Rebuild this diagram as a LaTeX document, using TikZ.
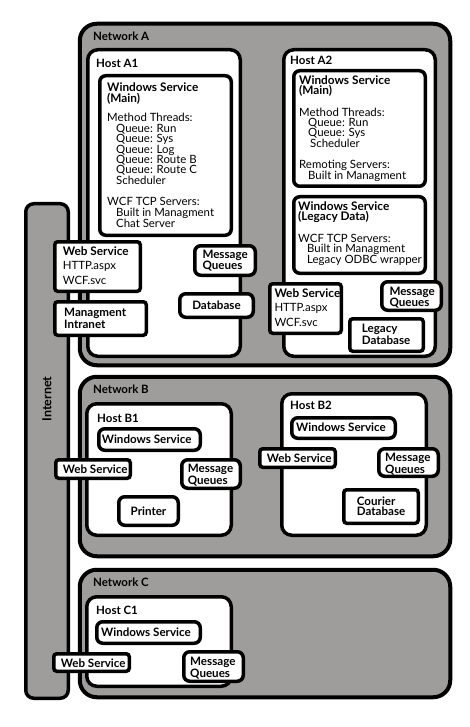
\documentclass[tikz,border=0pt]{standalone}
\usepackage{fontspec}
\setmainfont{Lato}
\definecolor{netgray}{RGB}{158,157,156}
\tikzset{
  netbox/.style={draw=black, fill=netgray, line width=4pt, rounded corners=17pt},
  inetbox/.style={draw=black, fill=netgray, line width=3.5pt, rounded corners=8pt},
  hostbox/.style={draw=black, fill=white, line width=3.5pt, rounded corners=10pt},
  inbox/.style={draw=black, fill=white, line width=3.5pt, rounded corners=6pt},
  sqbox/.style={draw=black, fill=white, line width=3.5pt, rounded corners=3pt},
  txt/.style={inner sep=0pt, anchor=west, align=left, font=\fontsize{11.4pt}{10.4pt}\selectfont},
  btxt/.style={txt, font=\fontsize{11.6pt}{10.4pt}\selectfont\bfseries},
  lbl/.style={inner sep=0pt, anchor=west, font=\fontsize{11.5pt}{12pt}\selectfont\bfseries},
}
\newcommand\rbx[5]{\draw[#1] ({#2+1.75},{#3+1.75}) rectangle ({#4-1.75},{#5-1.75});}
\newcommand\ind{\hspace*{9pt}}
\newcommand\hd[1]{{\fontsize{11.8pt}{10.4pt}\selectfont\bfseries #1}}
\begin{document}
\begin{tikzpicture}[x=1pt,y=-1pt]
\useasboundingbox (0,0) rectangle (470,727);
% Internet bar
\rbx{inetbox}{24}{202}{70}{700}
\node[lbl, anchor=center, rotate=90, font=\fontsize{12.5pt}{13pt}\selectfont\bfseries] (inet) at (47,399) {Internet};
% Networks
\rbx{netbox}{78}{22}{452}{367}
\rbx{netbox}{78}{375}{452}{558}
\rbx{netbox}{78}{568}{452}{699}
\node[lbl] (netA) at (93,36) {Network A};
\node[lbl] (netB) at (93,389) {Network B};
\node[lbl] (netC) at (93,582) {Network C};
% Hosts
\rbx{hostbox}{86}{48}{242}{358}
\rbx{hostbox}{282}{48}{437}{358}
\rbx{hostbox}{85}{402}{233}{537}
\rbx{hostbox}{280}{392}{428}{537}
\rbx{hostbox}{85}{595}{233}{688}
\node[lbl] (hA1) at (96,63) {Host A1};
\node[lbl] (hA2) at (290,60) {Host A2};
\node[lbl] (hB1) at (97,418) {Host B1};
\node[lbl] (hB2) at (290,405) {Host B2};
\node[lbl] (hC1) at (96,610) {Host C1};
% Host A1 contents
\rbx{inbox}{98}{74}{233}{237}
\node[txt] (wsA1) at (107,155.3) {\hd{Windows Service}\\\hd{(Main)}\\[9.5pt]
Method Threads:\\\ind Queue: Run\\\ind Queue: Sys\\\ind Queue: Log\\\ind Queue: Route B\\\ind Queue: Route C\\\ind Scheduler\\[11pt]
WCF TCP Servers:\\\ind Built in Managment\\\ind Chat Server};
\rbx{inbox}{193}{244}{257}{277}
\node[btxt] (mqA1) at (202.3,260.7) {Message\\Queues};
\rbx{inbox}{178}{292}{255}{319}
\node[btxt, anchor=center] (dbA1) at (216.5,305.5) {Database};
\rbx{sqbox}{53}{240}{142}{293}
\node[txt, font=\fontsize{11.4pt}{14.5pt}\selectfont] (webA1) at (62.7,265.5) {\hd{Web Service}\\HTTP.aspx\\WCF.svc};
\rbx{sqbox}{53}{300}{148}{337}
\node[btxt] (mgmt) at (64,318.3) {Managment\\Intranet};
% Host A2 contents
\rbx{inbox}{292}{69}{427}{188}
\node[txt] (wsA2) at (299,128.7) {\hd{Windows Service}\\\hd{(Main)}\\[11pt]
Method Threads:\\\ind Queue: Run\\\ind Queue: Sys\\\hspace*{11pt}Scheduler\\[10.5pt]
Remoting Servers:\\\ind Built in Managment};
\rbx{inbox}{292}{195}{427}{275}
\node[txt] (wsLeg) at (298,233.4) {\hd{Windows Service}\\\hd{(Legacy Data)}\\[11pt]
WCF TCP Servers:\\\ind Built in Managment\\\ind Legacy ODBC wrapper};
\rbx{sqbox}{268}{282}{343}{335}
\node[txt, font=\fontsize{11.4pt}{14.5pt}\selectfont] (webA2) at (274.3,307.2) {\hd{Web Service}\\HTTP.aspx\\WCF.svc};
\rbx{inbox}{380}{280}{443}{312}
\node[btxt] (mqA2) at (389.3,297.7) {Message\\Queues};
\rbx{sqbox}{348}{317}{425}{353}
\node[btxt] (ldb) at (361.7,334.2) {Legacy\\Database};
% Host B1 contents
\rbx{inbox}{97}{427}{202}{452}
\node[btxt] (wsB1) at (101.7,439.5) {Windows Service};
\rbx{sqbox}{54}{458}{132}{480}
\node[btxt] (webB1) at (62.7,469.5) {Web Service};
\rbx{inbox}{180}{458}{242}{490}
\node[btxt] (mqB1) at (187.7,475) {Message\\Queues};
\rbx{inbox}{117}{495}{180}{527}
\node[btxt, anchor=center] (prn) at (148.5,511) {Printer};
% Host B2 contents
\rbx{inbox}{290}{416}{397}{440}
\node[btxt] (wsB2) at (296,427.5) {Windows Service};
\rbx{sqbox}{258}{447}{337}{469}
\node[btxt] (webB2) at (266.7,458.5) {Web Service};
\rbx{inbox}{377}{447}{440}{478}
\node[btxt] (mqB2) at (385,464) {Message\\Queues};
\rbx{sqbox}{342}{488}{420}{525}
\node[btxt] (cdb) at (356.7,506.3) {Courier\\Database};
% Host C1 contents
\rbx{inbox}{95}{620}{202}{645}
\node[btxt] (wsC1) at (101,632) {Windows Service};
\rbx{sqbox}{52}{652}{131}{673}
\node[btxt] (webC1) at (60.7,663) {Web Service};
\rbx{inbox}{182}{650}{245}{683}
\node[btxt] (mqC1) at (190,668.3) {Message\\Queues};
\end{tikzpicture}
\end{document}
